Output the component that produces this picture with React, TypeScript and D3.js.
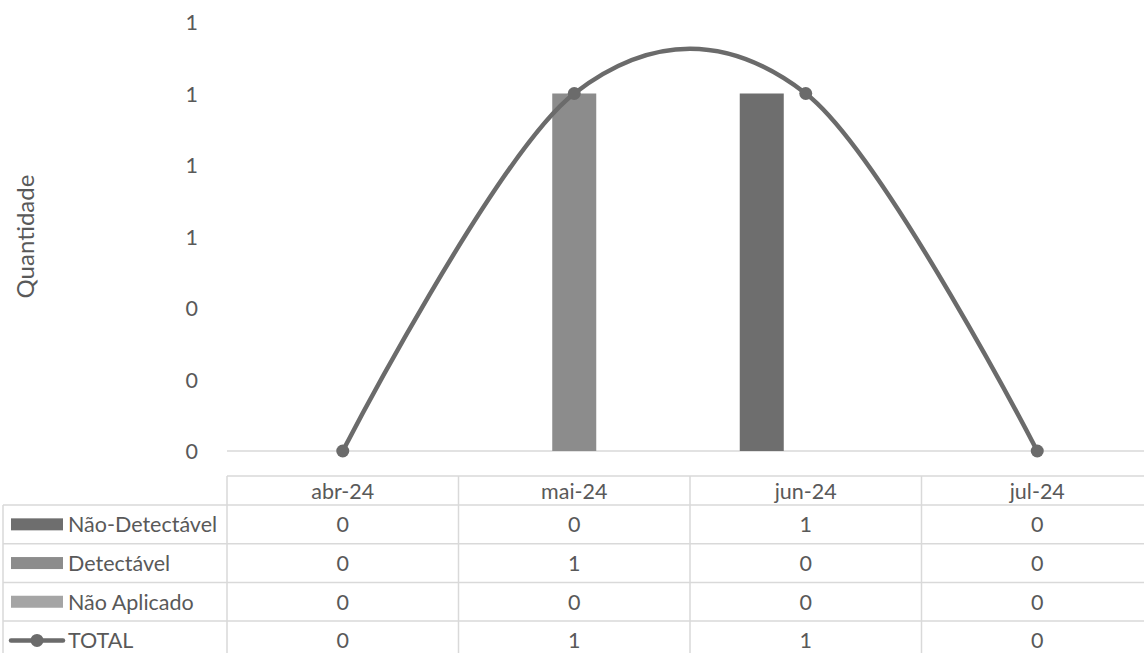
import * as d3 from "d3";
import { useEffect, useRef } from "react";

const categories = ["abr-24", "mai-24", "jun-24", "jul-24"];
const seriesNames = ["Não-Detectável", "Detectável", "Não Aplicado"];
const naoDetectavel = [0, 0, 1, 0];
const detectavel = [0, 1, 0, 0];
const naoAplicado = [0, 0, 0, 0];
const total = [0, 1, 1, 0];
const yTicks = [0, 0.2, 0.4, 0.6, 0.8, 1.0, 1.2];

const seriesColors = ["#6e6e6e", "#8c8c8c", "#a5a5a5"];
const lineColor = "#6b6b6b";
const textColor = "#595959";
const gridColor = "#d9d9d9";
const font = "Lato, 'Open Sans', sans-serif";
const fs = 21.5;

const App = () => {
  const svgRef = useRef<SVGSVGElement>(null);

  useEffect(() => {
    const svg = d3.select(svgRef.current);
    svg.selectAll("*").remove();

    const W = 1144;
    const left = 227;
    const colW = 231.5;
    const plotTop = 22;
    const plotBottom = 451;

    const x = d3
      .scaleBand<string>()
      .domain(categories)
      .range([left, left + colW * categories.length])
      .padding(0);
    const y = d3.scaleLinear().domain([0, 1.2]).range([plotBottom, plotTop]);
    const inner = d3
      .scaleBand<string>()
      .domain(seriesNames)
      .range([-66, 66])
      .padding(0);

    // y tick labels
    svg
      .append("g")
      .selectAll("text")
      .data(yTicks)
      .join("text")
      .attr("x", 198)
      .attr("y", (d) => y(d))
      .attr("text-anchor", "end")
      .attr("dominant-baseline", "central")
      .attr("font-family", font)
      .attr("font-size", fs)
      .attr("fill", textColor)
      .text((d) => d3.format(".0f")(d));

    svg
      .append("text")
      .attr("transform", `translate(24,${(plotTop + plotBottom) / 2}) rotate(-90)`)
      .attr("text-anchor", "middle")
      .attr("dominant-baseline", "central")
      .attr("font-family", font)
      .attr("font-size", 24)
      .attr("fill", textColor)
      .text("Quantidade");

    // axis line
    svg
      .append("line")
      .attr("x1", left)
      .attr("x2", W)
      .attr("y1", plotBottom)
      .attr("y2", plotBottom)
      .attr("stroke", gridColor)
      .attr("stroke-width", 1.5);

    // bars
    const seriesData = [naoDetectavel, detectavel, naoAplicado];
    seriesData.forEach((vals, si) => {
      svg
        .append("g")
        .selectAll("rect")
        .data(vals.map((v, i) => ({ v, c: categories[i] })))
        .join("rect")
        .attr("x", (d) => x(d.c)! + x.bandwidth() / 2 + inner(seriesNames[si])!)
        .attr("y", (d) => y(d.v))
        .attr("width", inner.bandwidth())
        .attr("height", (d) => plotBottom - y(d.v))
        .attr("fill", seriesColors[si]);
    });

    // total line
    const pts = total.map((v, i) => [x(categories[i])! + x.bandwidth() / 2, y(v)] as [number, number]);
    svg
      .append("path")
      .attr("d", d3.line().curve(d3.curveCardinal.tension(0))(pts))
      .attr("fill", "none")
      .attr("stroke", lineColor)
      .attr("stroke-width", 4.5)
      .attr("stroke-linecap", "round");
    svg
      .append("g")
      .selectAll("circle")
      .data(pts)
      .join("circle")
      .attr("cx", (d) => d[0])
      .attr("cy", (d) => d[1])
      .attr("r", 6.5)
      .attr("fill", lineColor);

    // data table
    const headerTop = 476;
    const headerBottom = 505;
    const rowH = 38.7;
    const rows = [naoDetectavel, detectavel, naoAplicado, total];
    const rowLabels = [...seriesNames, "TOTAL"];
    const table = svg.append("g");

    const hline = (x1: number, x2: number, yy: number) =>
      table
        .append("line")
        .attr("x1", x1)
        .attr("x2", x2)
        .attr("y1", yy)
        .attr("y2", yy)
        .attr("stroke", gridColor)
        .attr("stroke-width", 1.5);
    const vline = (xx: number, y1: number, y2: number) =>
      table
        .append("line")
        .attr("x1", xx)
        .attr("x2", xx)
        .attr("y1", y1)
        .attr("y2", y2)
        .attr("stroke", gridColor)
        .attr("stroke-width", 1.5);

    hline(left, W, headerTop);
    for (let r = 0; r < rows.length; r++) hline(3, W, headerBottom + r * rowH);
    categories.forEach((c) => vline(x(c)!, headerTop, 653));
    vline(3, headerBottom, 653);

    categories.forEach((c) => {
      table
        .append("text")
        .attr("x", x(c)! + x.bandwidth() / 2)
        .attr("y", (headerTop + headerBottom) / 2)
        .attr("text-anchor", "middle")
        .attr("dominant-baseline", "central")
        .attr("font-family", font)
        .attr("font-size", fs)
        .attr("fill", textColor)
        .text(c);
    });

    rows.forEach((vals, r) => {
      const cy = headerBottom + r * rowH + rowH / 2;
      vals.forEach((v, i) => {
        table
          .append("text")
          .attr("x", x(categories[i])! + x.bandwidth() / 2)
          .attr("y", cy)
          .attr("text-anchor", "middle")
          .attr("dominant-baseline", "central")
          .attr("font-family", font)
          .attr("font-size", fs)
          .attr("fill", textColor)
          .text(v);
      });
      // legend key
      if (r < 3) {
        table
          .append("rect")
          .attr("x", 11)
          .attr("y", cy - 6)
          .attr("width", 52)
          .attr("height", 12)
          .attr("fill", seriesColors[r]);
      } else {
        table
          .append("line")
          .attr("x1", 11)
          .attr("x2", 63)
          .attr("y1", cy)
          .attr("y2", cy)
          .attr("stroke", lineColor)
          .attr("stroke-width", 4.5)
          .attr("stroke-linecap", "round");
        table
          .append("circle")
          .attr("cx", 37)
          .attr("cy", cy)
          .attr("r", 6.5)
          .attr("fill", lineColor);
      }
      table
        .append("text")
        .attr("x", 68)
        .attr("y", cy)
        .attr("dominant-baseline", "central")
        .attr("font-family", font)
        .attr("font-size", fs)
        .attr("fill", textColor)
        .text(rowLabels[r]);
    });
  }, []);

  return (
    <svg
      ref={svgRef}
      width={1144}
      height={653}
      style={{ position: "absolute", left: 0, top: 0, background: "#fff" }}
    />
  );
};

export default App;
